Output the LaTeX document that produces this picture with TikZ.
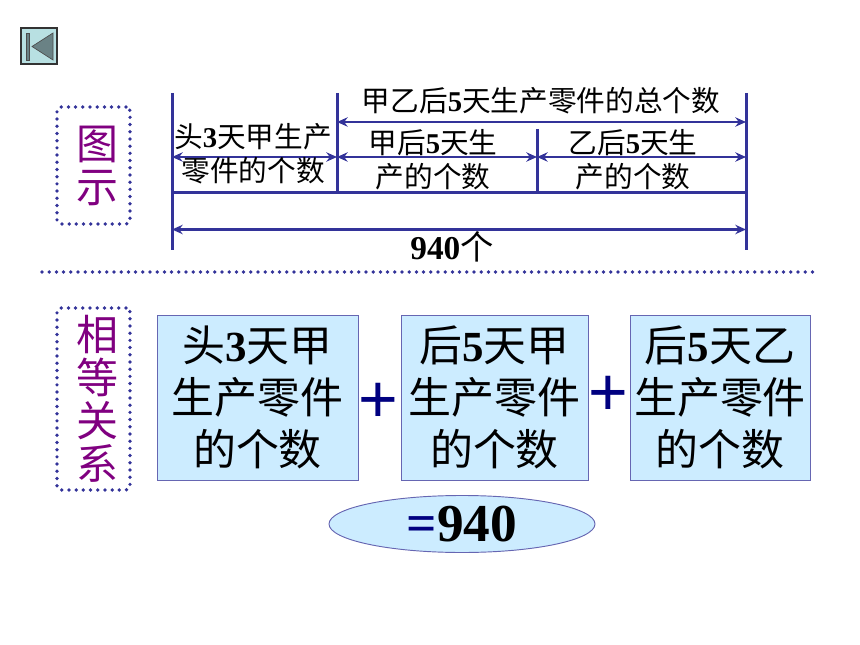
\documentclass[tikz,border=0pt]{standalone}
\usepackage{fontspec}
\setmainfont{Liberation Serif}
\newfontfamily\cjk{Noto Sans CJK SC}
\newfontfamily\plusfont{Liberation Sans}
\newcommand{\cj}[1]{{\cjk\mdseries #1}}
\usetikzlibrary{arrows.meta,shapes.geometric}
\definecolor{dblue}{HTML}{333399}
\definecolor{navyb}{HTML}{000080}
\definecolor{pale}{HTML}{CCECFF}
\definecolor{purp}{HTML}{800080}
\definecolor{btn}{HTML}{B8E0E2}
\definecolor{btndark}{HTML}{6A8285}
\tikzset{
  dotbox/.style={draw=dblue,line width=2.8pt,line cap=round,dash pattern=on 0pt off 5.4pt,rounded corners=3pt,inner sep=0pt},
  sidetext/.style={inner sep=0pt,text=purp,align=center,font=\cjk\fontsize{31.5}{32.3}\selectfont},
  rule/.style={draw=dblue,line width=2.25pt},
  dim/.style={draw=dblue,line width=2pt,{Stealth[length=8pt,width=7pt]}-{Stealth[length=8pt,width=7pt]}},
  small/.style={inner sep=0pt,align=center,font=\bfseries\fontsize{21.5}{25}\selectfont},
  bigbox/.style={draw=dblue!75,line width=0.7pt,fill=pale,inner sep=0pt,align=center,minimum height=123.75pt,
    font=\bfseries\fontsize{32.2}{39}\selectfont},
  plus/.style={inner sep=0pt,text=navyb,font=\plusfont\fontsize{51}{51}\selectfont},
}
\begin{document}
\begin{tikzpicture}[x=0.75pt,y=-0.75pt]
\useasboundingbox (0,0) rectangle (860,645);
% back button
\node[draw=black!80,line width=0.8pt,fill=btn,minimum width=27pt,minimum height=27pt,inner sep=0pt] (back) at (39,46) {};
\node[draw=black!70,line width=0.4pt,fill=btndark,minimum width=2.2pt,minimum height=20pt,inner sep=0pt] (backbar) at (27.5,46.5) {};
\draw[draw=black!70,line width=0.5pt,fill=btndark] (53,33) -- (32,46.5) -- (53,60) -- cycle;
% side labels
\node[dotbox,minimum width=54.75pt,minimum height=87.75pt] (tushi) at (93.5,165.5) {};
\node[sidetext] (tushit) at (97,166) {图\\示};
\node[dotbox,minimum width=54.75pt,minimum height=136.5pt] (xiangdeng) at (93.5,399) {};
\node[sidetext] (xiangdengt) at (97,399) {相\\等\\关\\系};
% separator
\coordinate (sepL) at (42,272);
\coordinate (sepR) at (819,272);
\draw[draw=dblue,line width=2.8pt,line cap=round,dash pattern=on 0pt off 5.4pt] (sepL) -- (sepR);
% diagram coordinates
\coordinate (aT) at (172,93); \coordinate (aB) at (172,250);
\coordinate (bT) at (337,93); \coordinate (bB) at (337,193);
\coordinate (cT) at (537,129); \coordinate (cB) at (537,193);
\coordinate (dT) at (746,93); \coordinate (dB) at (746,250);
\coordinate (hL) at (172,193); \coordinate (hR) at (746,193);
\coordinate (a1) at (172,157); \coordinate (b1) at (337,157); \coordinate (c1) at (537,157); \coordinate (d1) at (746,157);
\coordinate (b2) at (337,122); \coordinate (d2) at (746,122);
\coordinate (a3) at (172,229.5); \coordinate (d3) at (746,229.5);
\draw[rule] (aT) -- (aB);
\draw[rule] (bT) -- (bB);
\draw[rule] (cT) -- (cB);
\draw[rule] (dT) -- (dB);
\draw[rule] (hL) -- (hR);
\draw[dim] (b2) -- (d2);
\draw[dim] (a1) -- (b1);
\draw[dim] (b1) -- (c1);
\draw[dim] (c1) -- (d1);
\draw[dim] (a3) -- (d3);
% diagram labels
\node[small] (l0) at (541,101) {\cj{甲乙后}5\cj{天生产零件的总个数}};
\node[small] (l1a) at (253,137) {\cj{头}3\cj{天甲生产}};
\node[small] (l1b) at (253,171) {\cj{零件的个数}};
\node[small] (l2a) at (433,143) {\cj{甲后}5\cj{天生}};
\node[small] (l2b) at (433,177) {\cj{产的个数}};
\node[small] (l3a) at (633,143) {\cj{乙后}5\cj{天生}};
\node[small] (l3b) at (633,177) {\cj{产的个数}};
\node[small,font=\bfseries\fontsize{25}{25}\selectfont] (l4) at (452,247) {940\cj{个}};
% boxes
\node[bigbox,minimum width=150.75pt] (box1) at (257.5,397.5) {\cj{头}3\cj{天甲}\\\cj{生产零件}\\\cj{的个数}};
\node[bigbox,minimum width=140.25pt] (box2) at (494.5,397.5) {\cj{后}5\cj{天甲}\\\cj{生产零件}\\\cj{的个数}};
\node[bigbox,minimum width=135pt] (box3) at (720,397.5) {\cj{后}5\cj{天乙}\\\cj{生产零件}\\\cj{的个数}};
\node[plus] (p1) at (378,403) {+};
\node[plus] (p2) at (608,396) {+};
\node[ellipse,draw=dblue!75,line width=0.7pt,fill=pale,minimum width=199.5pt,minimum height=42.75pt,inner sep=0pt,
  font=\bfseries\fontsize{40}{40}\selectfont] (eq) at (462,524) {\textcolor{navyb}{=}940};
\end{tikzpicture}
\end{document}
